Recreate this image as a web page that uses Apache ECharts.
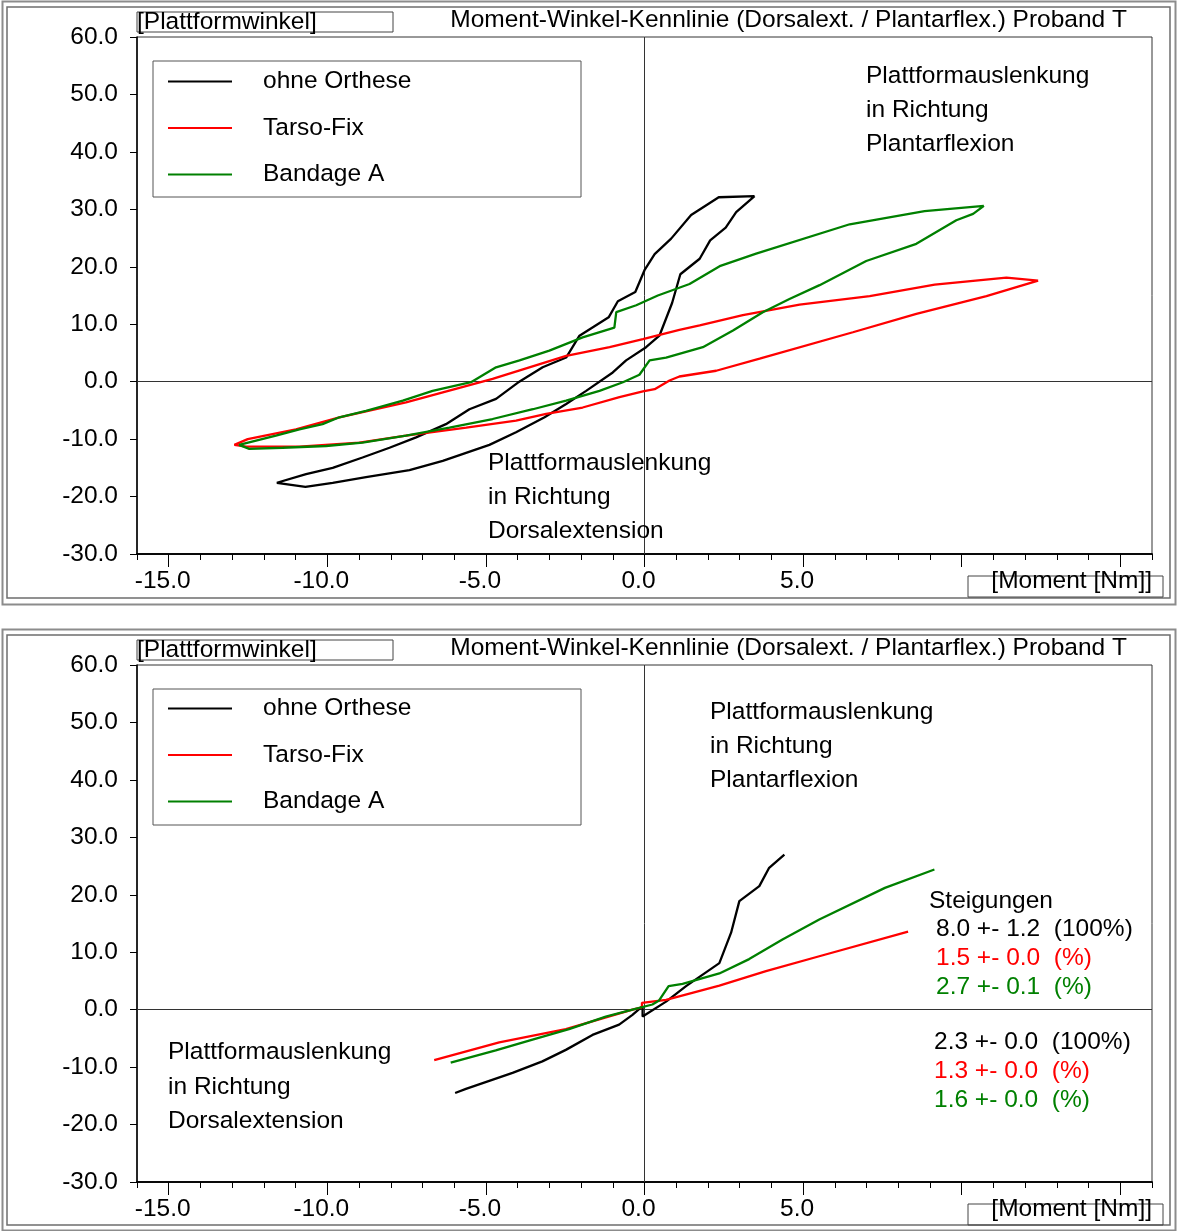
<!DOCTYPE html>
<html>
<head>
<meta charset="utf-8">
<title>Moment-Winkel-Kennlinie</title>
<script src="https://cdn.jsdelivr.net/npm/echarts@6/dist/echarts.min.js"></script>
<style>
  html, body { margin: 0; padding: 0; background: #fff; }
  #chart { width: 1177px; height: 1231px; }
</style>
</head>
<body>
<div id="chart"></div>
<script>
// ---- Data -------------------------------------------------------------
const seriesNames = ['ohne Orthese', 'Tarso-Fix', 'Bandage A'];

// Upper diagram: full loading / unloading loops [moment Nm, platform angle deg]
const loopOhneOrthese = [[3.47,32.3],[2.34,32.1],[1.47,29.0],[0.84,24.9],[0.32,22.2],[0.0,19.4],[-0.29,15.6],[-0.84,14.0],[-1.13,11.2],[-2.05,8.0],[-2.47,4.2],[-3.21,2.5],[-4.0,-0.2],[-4.68,-3.0],[-5.52,-4.8],[-6.26,-7.4],[-7.2,-9.7],[-8.04,-11.5],[-8.89,-13.2],[-9.83,-15.0],[-10.67,-16.1],[-11.59,-17.6],[-10.69,-18.3],[-9.83,-17.6],[-8.78,-16.6],[-7.41,-15.4],[-6.36,-13.8],[-4.89,-11.0],[-4.05,-8.8],[-3.15,-6.2],[-2.47,-3.9],[-1.84,-1.6],[-1.0,1.6],[-0.58,3.7],[0.05,6.0],[0.47,8.0],[0.87,13.7],[1.13,18.7],[1.74,21.4],[2.07,24.6],[2.56,26.8],[2.89,29.5],[3.47,32.3]];
const loopTarsoFix = [[12.41,17.6],[11.41,18.1],[9.15,16.9],[7.10,14.9],[4.89,13.4],[3.10,11.6],[1.74,9.8],[1.10,9.0],[-0.05,7.4],[-1.10,6.0],[-2.47,4.5],[-4.79,0.5],[-7.52,-3.6],[-9.62,-6.2],[-10.99,-8.3],[-12.51,-10.0],[-12.93,-11.0],[-12.56,-11.3],[-10.88,-11.3],[-8.99,-10.6],[-7.52,-9.4],[-5.62,-8.0],[-4.05,-6.8],[-3.10,-5.6],[-1.95,-4.5],[-0.79,-2.7],[-0.05,-1.7],[0.32,-1.3],[0.79,0.2],[1.10,0.9],[2.26,1.9],[3.63,4.0],[6.57,8.6],[8.57,11.8],[10.78,14.9],[12.41,17.6]];
const loopBandageA = [[10.70,30.6],[8.83,29.7],[6.47,27.4],[3.52,22.3],[2.37,20.1],[1.42,17.0],[0.42,15.0],[-0.26,13.3],[-0.89,12.1],[-0.95,9.4],[-1.95,7.7],[-3.0,5.4],[-3.94,3.7],[-4.68,2.5],[-5.47,-0.1],[-6.68,-1.6],[-7.62,-3.3],[-8.78,-5.1],[-9.62,-6.2],[-10.15,-7.4],[-10.88,-8.3],[-11.62,-9.4],[-12.78,-11.0],[-12.46,-11.7],[-11.41,-11.5],[-10.04,-11.2],[-8.89,-10.6],[-7.52,-9.4],[-6.15,-8.0],[-4.79,-6.5],[-3.52,-4.8],[-2.47,-3.3],[-1.42,-1.6],[-0.68,-0.1],[-0.16,1.2],[0.16,3.7],[0.68,4.2],[1.84,6.0],[2.79,8.9],[3.73,12.1],[4.57,14.4],[5.52,16.8],[6.99,21.0],[8.57,24.0],[9.83,28.1],[10.36,29.2],[10.70,30.6]];

// Lower diagram: characteristic curves
const curveOhneOrthese = [[-5.97,-14.5],[-5.63,-13.8],[-4.16,-11.0],[-3.22,-9.0],[-2.48,-7.0],[-1.64,-4.4],[-0.80,-2.6],[-0.38,-0.9],[-0.06,0.6],[-0.06,-1.2],[0.68,1.4],[1.31,4.1],[2.36,8.1],[2.73,13.4],[2.99,18.9],[3.62,21.5],[3.93,24.7],[4.41,27.0]];
const curveTarsoFix = [[-6.63,-8.8],[-4.58,-5.7],[-2.48,-3.4],[-1.43,-1.7],[-0.38,0.0],[-0.08,0.4],[-0.08,1.2],[0.68,1.7],[2.36,4.2],[3.83,6.7],[5.51,9.3],[8.31,13.6]];
const curveBandageA = [[-6.11,-9.2],[-4.69,-7.1],[-3.53,-5.2],[-2.38,-3.4],[-1.22,-1.2],[-0.38,0.0],[0.25,0.9],[0.46,1.6],[0.76,4.1],[1.20,4.5],[2.36,6.3],[3.30,8.8],[4.35,12.2],[5.51,15.7],[7.58,21.2],[9.14,24.4]];

// Slopes (Steigungen) for plantarflexion and dorsalextension
const slopeHeader = 'Steigungen';
const slopesPlantar = ['8.0 +- 1.2  (100%)', '1.5 +- 0.0  (%)', '2.7 +- 0.1  (%)'];
const slopesDorsal  = ['2.3 +- 0.0  (100%)', '1.3 +- 0.0  (%)', '1.6 +- 0.0  (%)'];

// Axes
const xRange = [-16, 16];
const yRange = [-30, 60];
const yStep = 10;
const xMinorTicks = [-16,-15,-14,-13,-12,-11,-10,-9,-8,-7,-6,-5,-4,-3,-2,-1,0,1,2,3,4,5,6,7,8,9,10,11,12,13,14,15,16];
const xMajorTicks = [-15,-10,-5,0,5,10,15];
const xTickLabels = [-15,-10,-5,0,5];

const titleText = 'Moment-Winkel-Kennlinie (Dorsalext. / Plantarflex.) Proband T';
const yAxisName = '[Plattformwinkel]';
const xAxisName = '[Moment [Nm]]';
const notePlantar = 'Plattformauslenkung\nin Richtung\nPlantarflexion';
const noteDorsal = 'Plattformauslenkung\nin Richtung\nDorsalextension';

// ---- Styling -----------------------------------------------------------
const FONT = '"Liberation Sans", Arial, "DejaVu Sans", sans-serif';
const FS = 24.5;
const seriesColors = ['#000000', '#ff0000', '#008000'];
const GRID_LEFT = 137, GRID_W = 1015, GRID_H = 517;
const panels = [
  { top: 0,   gridTop: 37,  legendTop: 69 },
  { top: 628, gridTop: 665, legendTop: 696 }
];

const chart = echarts.init(document.getElementById('chart'), null, { renderer: 'canvas' });

const grids = [], xAxes = [], yAxes = [], series = [], legends = [], graphics = [];

function txt(x, y, text, opts) {
  opts = opts || {};
  return {
    type: 'text', x: x, y: y, silent: true, z: 10,
    style: {
      text: text, fill: opts.color || '#000', font: FS + 'px ' + FONT,
      fontSize: FS, fontFamily: FONT,
      align: opts.align || 'left', textAlign: opts.align || 'left',
      verticalAlign: opts.va || 'middle', textVerticalAlign: opts.va || 'middle',
      lineHeight: opts.lh || FS
    }
  };
}
function box(x, y, w, h, stroke, lw) {
  return {
    type: 'rect', silent: true, z: 5,
    shape: { x: x, y: y, width: w, height: h },
    style: { fill: 'none', stroke: stroke, lineWidth: lw }
  };
}

const datasets = [
  [loopOhneOrthese, loopTarsoFix, loopBandageA],
  [curveOhneOrthese, curveTarsoFix, curveBandageA]
];

panels.forEach(function (p, g) {
  grids.push({
    left: GRID_LEFT, top: p.gridTop, width: GRID_W, height: GRID_H,
    show: true, borderColor: '#333', borderWidth: 1, backgroundColor: '#fff'
  });

  const axisLine = { show: true, onZero: false, lineStyle: { color: '#000', width: 1.5 } };
  // major ticks + labels
  xAxes.push({
    gridIndex: g, type: 'value', position: 'bottom', min: xRange[0], max: xRange[1],
    axisLine: axisLine,
    axisTick: { show: true, length: 13, customValues: xMajorTicks, lineStyle: { color: '#000', width: 1 } },
    axisLabel: {
      show: true, customValues: xTickLabels, margin: 15, color: '#000',
      fontSize: FS, fontFamily: FONT, padding: [0, 12, 0, 0],
      formatter: function (v) { return v.toFixed(1); }
    },
    splitLine: { show: false }
  });
  // minor ticks
  xAxes.push({
    gridIndex: g, type: 'value', position: 'bottom', min: xRange[0], max: xRange[1],
    axisLine: axisLine,
    axisTick: { show: true, length: 6, customValues: xMinorTicks, lineStyle: { color: '#000', width: 1 } },
    axisLabel: { show: false },
    splitLine: { show: false }
  });
  yAxes.push({
    gridIndex: g, type: 'value', min: yRange[0], max: yRange[1], interval: yStep,
    axisLine: axisLine,
    axisTick: { show: true, length: 7, lineStyle: { color: '#000', width: 1 } },
    axisLabel: {
      margin: 19, color: '#000', fontSize: FS, fontFamily: FONT, padding: [0, 0, 5, 0],
      formatter: function (v) { return v.toFixed(1); }
    },
    splitLine: { show: false }
  });

  datasets[g].forEach(function (d, i) {
    const s = {
      name: seriesNames[i], type: 'line', xAxisIndex: g * 2, yAxisIndex: g,
      data: d, showSymbol: false, symbol: 'none', smooth: false,
      color: seriesColors[i],
      lineStyle: { color: seriesColors[i], width: 2.3 },
      z: 3, animation: false
    };
    if (i === 0) {
      s.markLine = {
        silent: true, symbol: 'none', animation: false, z: 1,
        label: { show: false },
        lineStyle: { color: '#333', width: 1, type: 'solid' },
        data: [{ xAxis: 0 }, { yAxis: 0 }]
      };
    }
    series.push(s);
  });

  legends.push({
    show: true, orient: 'vertical', left: 168, top: p.legendTop, padding: 0,
    data: seriesNames, selectedMode: false,
    icon: 'rect', itemWidth: 64, itemHeight: 2, itemGap: 21.5,
    textStyle: { color: '#000', fontSize: FS, fontFamily: FONT, lineHeight: 24, padding: [0, 0, 0, 26] }
  });

  // panel frame
  graphics.push(box(2.5, p.top + 1.5, 1173, g === 0 ? 603 : 601, '#8c8c8c', 2));
  graphics.push(box(7, p.top + 7, 1163, g === 0 ? 591 : 590, '#6e6e6e', 1.5));
  // axis name boxes
  graphics.push(box(137, p.top + 12, 256, 20, '#444', 1));
  graphics.push(txt(137, p.top + 22, yAxisName));
  graphics.push(box(968, p.top + 576, 195, 21, '#444', 1));
  graphics.push(txt(1152, p.top + 581, xAxisName, { align: 'right' }));
  // title
  graphics.push(txt(1127, p.top + 20, titleText, { align: 'right' }));
  // legend frame
  graphics.push(box(153, p.top + 61, 428, 136, '#555', 1));
});

// annotations, upper diagram
graphics.push(txt(866, 59, notePlantar, { va: 'top', lh: 34 }));
graphics.push(txt(488, 446, noteDorsal, { va: 'top', lh: 34 }));
// annotations, lower diagram
graphics.push(txt(710, 695, notePlantar, { va: 'top', lh: 34 }));
graphics.push(txt(168, 1035, noteDorsal, { va: 'top', lh: 34.5 }));
graphics.push(txt(929, 901, slopeHeader));
slopesPlantar.forEach(function (t, i) {
  graphics.push(txt(936, 929.5 + i * 28.7, t, { color: seriesColors[i] }));
});
slopesDorsal.forEach(function (t, i) {
  graphics.push(txt(934, 1042.5 + i * 28.7, t, { color: seriesColors[i] }));
});

chart.setOption({
  animation: false,
  backgroundColor: '#fff',
  textStyle: { fontFamily: FONT },
  grid: grids,
  xAxis: xAxes,
  yAxis: yAxes,
  legend: legends,
  series: series,
  graphic: { elements: graphics }
});
</script>
</body>
</html>
